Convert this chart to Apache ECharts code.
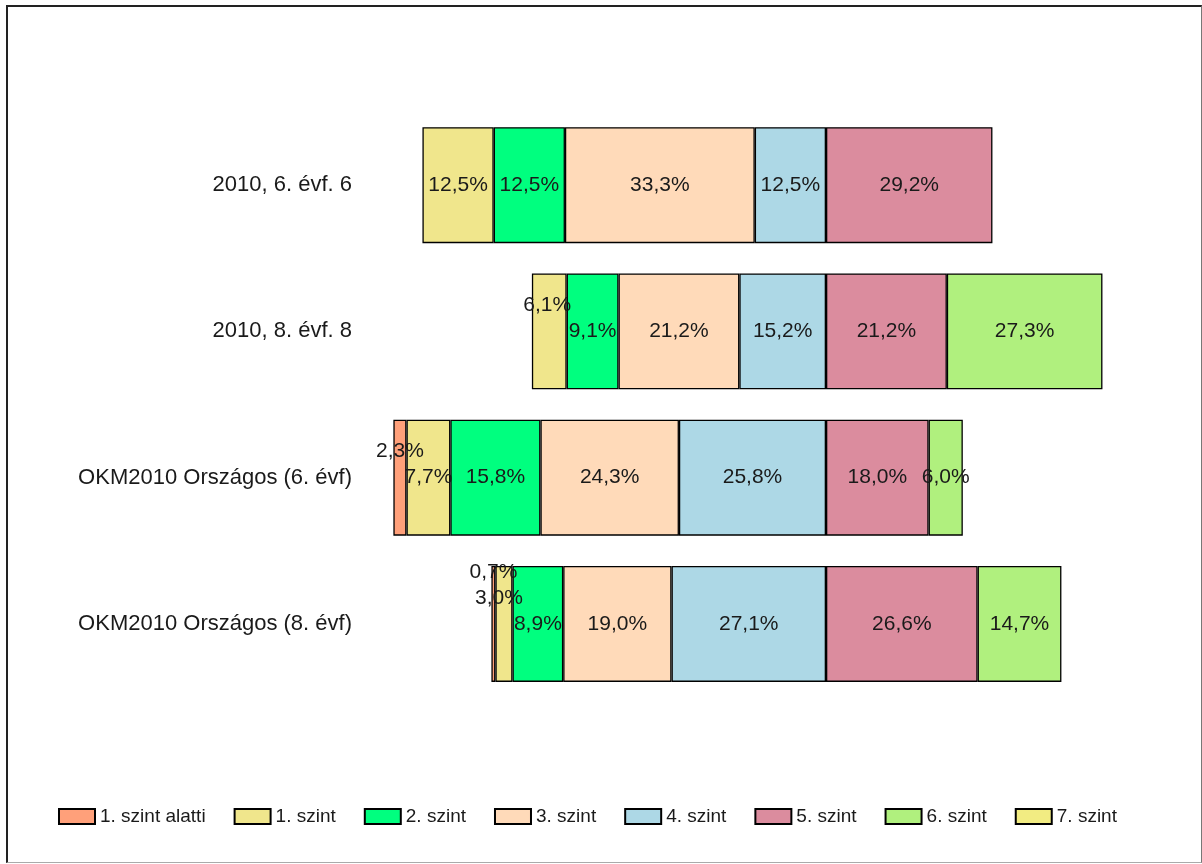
<!DOCTYPE html>
<html>
<head>
<meta charset="utf-8">
<script src="https://cdn.jsdelivr.net/npm/echarts@6/dist/echarts.min.js"></script>
<style>
  body { margin: 0; background: #fff; }
  #chart { position: absolute; left: 0; top: 0; width: 1202px; height: 864px; }
  #frame {
    position: absolute; left: 6px; top: 5px; width: 1193px; height: 855px;
    border-top: 2px solid #222; border-left: 2px solid #222;
    border-right: 1px solid #777; border-bottom: 1px solid #aaa;
    pointer-events: none;
  }
</style>
</head>
<body>
<div id="chart"></div>
<div id="frame"></div>
<script>
// sorok (felülről lefelé)
var categories = ['2010, 6. évf. 6', '2010, 8. évf. 8', 'OKM2010 Országos (6. évf)', 'OKM2010 Országos (8. évf)']

// szintek szerinti megoszlás, %
var levelNames = ['1. szint alatti', '1. szint', '2. szint', '3. szint', '4. szint', '5. szint', '6. szint', '7. szint']
var alatti = [0, 0, 2.3, 0.7]
var szint1 = [12.5, 6.1, 7.7, 3.0]
var szint2 = [12.5, 9.1, 15.8, 8.9]
var szint3 = [33.3, 21.2, 24.3, 19.0]
var szint4 = [12.5, 15.2, 25.8, 27.1]
var szint5 = [29.2, 21.2, 18.0, 26.6]
var szint6 = [0, 27.3, 6.0, 14.7]
var szint7 = [0, 0, 0, 0]

var colors = ['#FFA07A', '#F0E68C', '#00FF7F', '#FFDAB9', '#ADD8E6', '#DB8C9E', '#B0F07E', '#F2EC82']

// a feliratok, amik nem férnek el, feljebb csúsznak (sor|szint -> [dx, lépések])
var labelLift = { '1|1': [-2, 1], '2|0': [0, 1], '3|0': [0, 2], '3|1': [-5, 1] }

var levelData = [alatti, szint1, szint2, szint3, szint4, szint5, szint6, szint7]

function fmt (v) {
  return Math.abs(v).toFixed(1).replace('.', ',') + '%'
}

function buildSeries (idx, negative) {
  var data = levelData[idx].map(function (v, row) {
    if (!v) return '-'
    var item = { value: negative ? -v : v }
    var lift = labelLift[row + '|' + idx]
    if (lift) item.label = { offset: [lift[0], -26 * lift[1]] }
    return item
  })
  return {
    name: levelNames[idx],
    type: 'bar',
    stack: 'total',
    barWidth: 116,
    data: data,
    itemStyle: { color: colors[idx], borderColor: '#000', borderWidth: 1.3 },
    label: {
      show: true,
      position: 'inside',
      color: '#1a1a1a',
      fontFamily: 'Liberation Sans',
      fontSize: 21,
      formatter: function (p) { return fmt(p.value) }
    },
    emphasis: { disabled: true },
    animation: false
  }
}

// negatív oldal: a 4. szinttől kifelé, pozitív: 5. szinttől
var series = [4, 3, 2, 1, 0].map(function (i) { return buildSeries(i, true) })
  .concat([5, 6, 7].map(function (i) { return buildSeries(i, false) }))

var chart = echarts.init(document.getElementById('chart'))
var option = {
  animation: false,
  grid: { left: 370, right: 91, top: 112, bottom: 167 },
  xAxis: {
    type: 'value',
    min: -80,
    max: 50,
    show: false
  },
  yAxis: {
    type: 'category',
    inverse: true,
    data: categories,
    axisLine: { show: false },
    axisTick: { show: false },
    axisLabel: {
      margin: 18,
      color: '#1a1a1a',
      fontFamily: 'Liberation Sans',
      fontSize: 22
    }
  },
  legend: {
    left: 58,
    top: 807,
    padding: 0,
    icon: 'rect',
    itemWidth: 36,
    itemHeight: 15,
    itemGap: 28,
    data: levelNames,
    textStyle: {
      color: '#1a1a1a',
      fontFamily: 'Liberation Sans',
      fontSize: 19
    }
  },
  series: series
}
chart.setOption(option)
</script>
</body>
</html>
